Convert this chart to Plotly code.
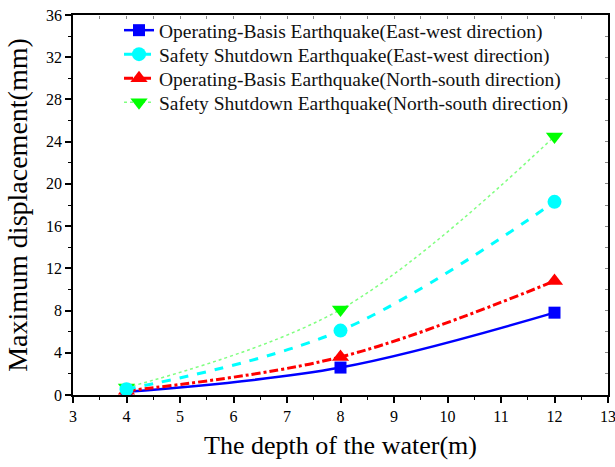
import plotly.graph_objects as go

# Water depth (m)
depth = [4, 8, 12]

# Maximum displacement (mm) for each load case
obe_ew = [0.3, 2.6, 7.8]    # Operating-Basis Earthquake, East-west
sse_ew = [0.55, 6.1, 18.3]  # Safety Shutdown Earthquake, East-west
obe_ns = [0.4, 3.6, 10.8]   # Operating-Basis Earthquake, North-south
sse_ns = [0.7, 8.1, 24.5]   # Safety Shutdown Earthquake, North-south

x_ticks = list(range(3, 14))
y_ticks = list(range(0, 37, 4))

FONT = "Liberation Serif"

# drawing order: cyan circle last so it sits on top at the shallow end;
# "row" is the line of the legend each series occupies
series = [
    dict(name="Operating-Basis Earthquake(East-west direction)", y=obe_ew,
         color="#0000ff", linecolor="#0000ff", dash="solid", width=2.5,
         symbol="square", size=12, row=0),
    dict(name="Operating-Basis Earthquake(North-south direction)", y=obe_ns,
         color="#ff0000", linecolor="#ff0000", dash="dashdot", width=3,
         symbol="triangle-up", size=15, row=2),
    dict(name="Safety Shutdown Earthquake(North-south direction)", y=sse_ns,
         color="#00ff00", linecolor="#80ff80", dash="dot", width=1.5,
         symbol="triangle-down", size=15, row=3),
    dict(name="Safety Shutdown Earthquake(East-west direction)", y=sse_ew,
         color="#00ffff", linecolor="#00ffff", dash="dash", width=3,
         symbol="circle", size=14, row=1),
]

legend_ids = ["legend", "legend2", "legend3", "legend4"]

fig = go.Figure()
for s in series:
    fig.add_trace(go.Scatter(
        x=depth, y=s["y"], name=s["name"], mode="lines+markers",
        line=dict(color=s["linecolor"], dash=s["dash"], width=s["width"],
                  shape="spline", smoothing=1.0),
        marker=dict(symbol=s["symbol"], size=s["size"], color=s["color"],
                    line=dict(width=0)),
        legend=legend_ids[s["row"]],
    ))

# empty trace that carries the mirrored top/right axes
fig.add_trace(go.Scatter(x=[None], y=[None], xaxis="x2", yaxis="y2",
                         showlegend=False, hoverinfo="skip"))

axis_common = dict(
    showgrid=False, zeroline=False, showline=True, mirror=True,
    linecolor="black", linewidth=1.5, ticks="outside", ticklen=6,
    tickwidth=1.5, tickcolor="black", automargin=False,
    ticklabeloverflow="allow",
    tickfont=dict(family=FONT, size=16, color="black"),
)

# one single-entry legend per row, so rows can sit closer than the
# default line height of a large legend font
plot_top, plot_bottom = 15, 395
row_px = 24
first_row_top = 11
legends = {}
for i, lid in enumerate(legend_ids):
    top_px = first_row_top + i * row_px
    legends[lid] = dict(
        x=0.086, y=(plot_bottom - top_px) / (plot_bottom - plot_top),
        xanchor="left", yanchor="top",
        bgcolor="rgba(0,0,0,0)", borderwidth=0,
        font=dict(family=FONT, size=19.5, color="#111111"),
    )

fig.update_layout(
    width=615, height=467,
    margin=dict(l=73, r=7, t=15, b=72),
    paper_bgcolor="white", plot_bgcolor="white",
    font=dict(family=FONT, color="black"),
    xaxis=dict(
        **axis_common, range=[3, 13], tickvals=x_ticks,
        minor=dict(dtick=0.5, ticks="outside", ticklen=3, tickwidth=1.2,
                   tickcolor="black"),
        title=dict(text="The depth of the water(m)",
                   font=dict(family=FONT, size=26), standoff=12),
    ),
    yaxis=dict(
        **axis_common, range=[0, 36], tickvals=y_ticks,
        minor=dict(dtick=2, ticks="outside", ticklen=3, tickwidth=1.2,
                   tickcolor="black"),
        title=dict(text="Maximum displacement(mm)",
                   font=dict(family=FONT, size=28), standoff=10),
    ),
    xaxis2=dict(overlaying="x", side="top", anchor="free", position=1,
                range=[3, 13], dtick=0.5, ticks="inside", ticklen=3,
                tickcolor="#888888", showticklabels=False, showgrid=False,
                zeroline=False, showline=False, automargin=False),
    yaxis2=dict(overlaying="y", side="right", anchor="free", position=1,
                range=[0, 36], dtick=2, ticks="inside", ticklen=3,
                tickcolor="#888888", showticklabels=False, showgrid=False,
                zeroline=False, showline=False, automargin=False),
    showlegend=True,
    **legends,
)

fig.write_html("out.html")
